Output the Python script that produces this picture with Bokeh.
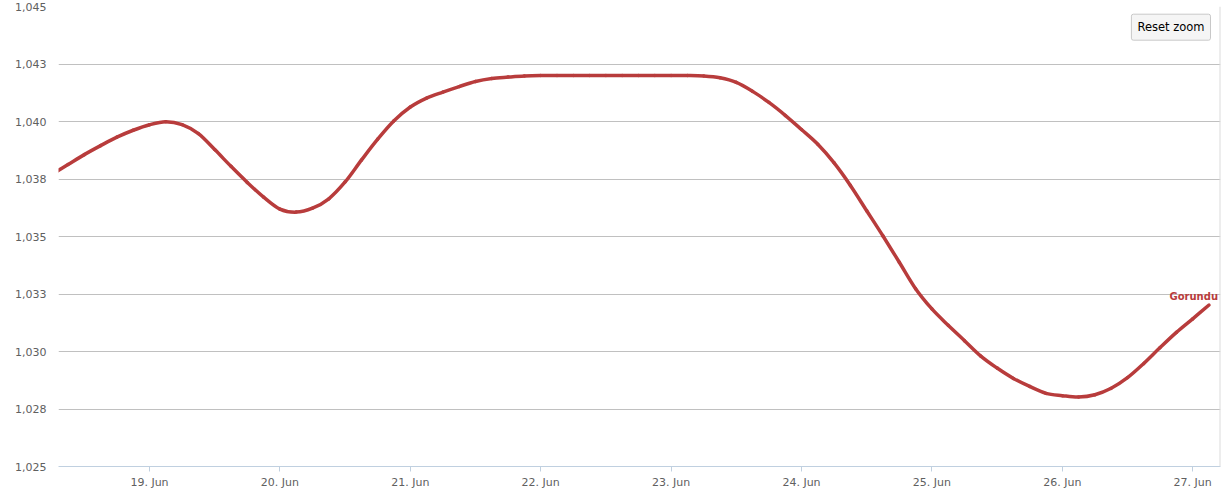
import numpy as np
import pandas as pd
from bokeh.core.properties import value
from bokeh.embed import file_html
from bokeh.models import (ColumnDataSource, DatetimeTickFormatter, DaysTicker,
                          FixedTicker, Label, Range1d, Span)
from bokeh.plotting import figure
from bokeh.resources import INLINE

# --- data: pressure readings every 3 hours ---
series_name = "Gorundu"
first_reading = "2013-06-18 06:00"
pressure = [
    1037.70, 1038.13, 1038.56, 1038.95, 1039.32, 1039.62, 1039.86, 1039.99,
    1039.86, 1039.47, 1038.78, 1038.05, 1037.35, 1036.71, 1036.19, 1036.06,
    1036.23, 1036.64, 1037.37, 1038.32, 1039.23, 1040.03, 1040.63, 1041.02,
    1041.28, 1041.52, 1041.74, 1041.87, 1041.93, 1041.98, 1042.00, 1042.00,
    1042.00, 1042.00, 1042.00, 1042.00, 1042.00, 1042.00, 1042.00, 1042.00,
    1041.98, 1041.90, 1041.70, 1041.31, 1040.83, 1040.27, 1039.65, 1039.01,
    1038.20, 1037.22, 1036.12, 1035.02, 1033.88, 1032.73, 1031.85, 1031.14,
    1030.47, 1029.80, 1029.28, 1028.83, 1028.48, 1028.18, 1028.08, 1028.02,
    1028.12, 1028.40, 1028.86, 1029.48, 1030.17, 1030.83, 1031.42, 1032.02,
]
times = pd.date_range(first_reading, periods=len(pressure), freq="3h")

y_ticks = [1025, 1027.5, 1030, 1032.5, 1035, 1037.5, 1040, 1042.5, 1045]
y_tick_labels = ["1,025", "1,028", "1,030", "1,033", "1,035",
                 "1,038", "1,040", "1,043", "1,045"]

LINE = "#b83c3c"
FONT = "DejaVu Sans"

x_start = pd.Timestamp("2013-06-18 07:15")
x_end = pd.Timestamp("2013-06-27 05:07")

p = figure(
    width=1225,
    height=494,
    x_axis_type="datetime",
    x_range=Range1d(x_start, x_end),
    y_range=Range1d(1025, 1045),
    toolbar_location=None,
    output_backend="svg",
    min_border_left=58,
    min_border_right=5,
    min_border_top=6,
    min_border_bottom=28,
)
p.outline_line_color = None
p.background_fill_color = "white"
p.border_fill_color = "white"

# x axis
p.xaxis.ticker = DaysTicker(days=list(range(1, 32)))
p.xaxis.formatter = DatetimeTickFormatter(days="%d. %b", months="%d. %b")
p.xaxis.axis_line_color = "#c0d0e0"
p.xaxis.major_tick_line_color = "#c0d0e0"
p.xaxis.major_tick_out = 5
p.xaxis.major_tick_in = 0
p.xaxis.minor_tick_line_color = None
p.xaxis.major_label_standoff = 4
p.xaxis.major_label_text_font = FONT
p.xaxis.major_label_text_font_size = "11px"
p.xaxis.major_label_text_color = "#606060"
p.xgrid.grid_line_color = None

# y axis
p.yaxis.ticker = FixedTicker(ticks=y_ticks)
p.yaxis.major_label_overrides = dict(zip(y_ticks, y_tick_labels))
p.yaxis.axis_line_color = None
p.yaxis.major_tick_line_color = None
p.yaxis.minor_tick_line_color = None
p.yaxis.major_label_standoff = 6
p.yaxis.major_label_text_font = FONT
p.yaxis.major_label_text_font_size = "11px"
p.yaxis.major_label_text_color = "#606060"
p.ygrid.grid_line_color = "#c0c0c0"
p.ygrid.ticker = FixedTicker(ticks=y_ticks)

# series, drawn as a smooth spline (bezier segments between readings)
t = (times.asi8 // 10**6).astype(float)
v = np.asarray(pressure, dtype=float)
tp = np.concatenate([[t[0]], t, [t[-1]]])
vp = np.concatenate([[v[0]], v, [v[-1]]])
seg = ColumnDataSource(dict(
    x0=t[:-1], y0=v[:-1], x1=t[1:], y1=v[1:],
    cx0=t[:-1] + (tp[2:-1] - tp[:-3]) / 6, cy0=v[:-1] + (vp[2:-1] - vp[:-3]) / 6,
    cx1=t[1:] - (tp[3:] - tp[1:-2]) / 6, cy1=v[1:] - (vp[3:] - vp[1:-2]) / 6,
))
p.bezier("x0", "y0", "x1", "y1", "cx0", "cy0", "cx1", "cy1", source=seg,
         line_color=LINE, line_width=3.5, line_cap="round")

end_src = ColumnDataSource(dict(t=[times[-1]], v=[pressure[-1]], name=[series_name]))
p.text("t", "v", text="name", source=end_src, x_offset=9, y_offset=-3,
       text_align="right", text_baseline="bottom", text_color=LINE,
       text_font=value(FONT), text_font_size="10px", text_font_style="bold")

# faint right border
p.add_layout(Span(location=x_end, dimension="height", line_color="#dcdcdc",
                  line_width=2))

# reset zoom button look-alike
p.add_layout(Label(
    x=x_end, y=1044.1, x_offset=-10, text="Reset zoom",
    text_align="right", text_baseline="middle",
    text_font=FONT, text_font_size="11.5px", text_color="#000000",
    background_fill_color="#f5f5f5", border_line_color="#c8c8c8",
    padding=6, border_radius=2,
))

open("out.html", "w").write(file_html(p, INLINE))
